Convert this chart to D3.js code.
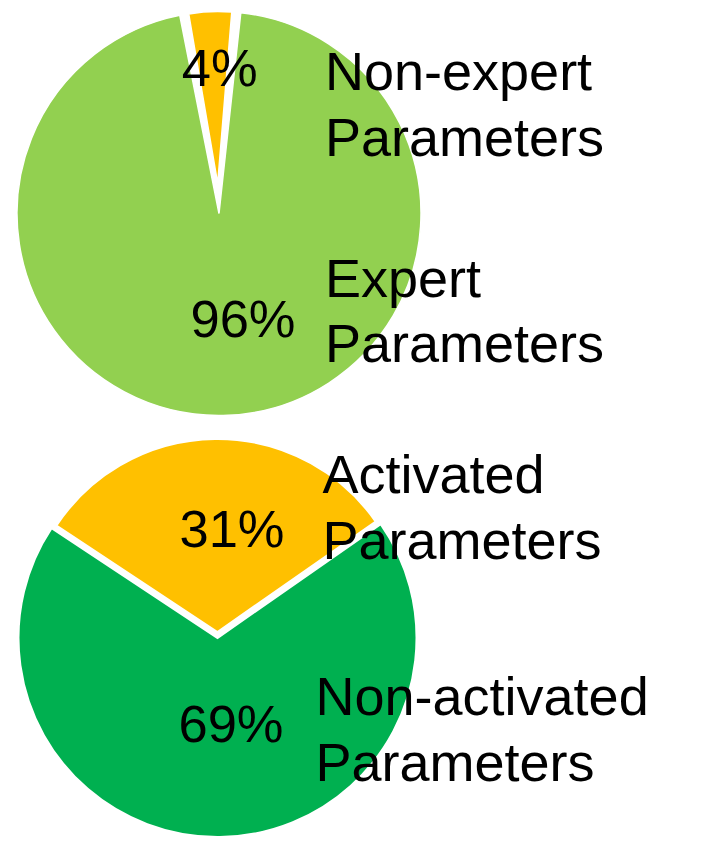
<!DOCTYPE html>
<html>
<head>
<meta charset="utf-8">
<script src="https://cdn.jsdelivr.net/npm/d3@7"></script>
<style>
  html, body { margin: 0; padding: 0; background: #ffffff; }
  svg { display: block; }
  text { font-family: "Liberation Sans", Arial, sans-serif; fill: #000; }
</style>
</head>
<body>
<script>
// ---- data ----
const topCategories = ["Non-expert Parameters", "Expert Parameters"];
const topValues = [4, 96];
const topLabels = ["4%", "96%"];

const bottomCategories = ["Activated Parameters", "Non-activated Parameters"];
const bottomValues = [31, 69];
const bottomLabels = ["31%", "69%"];

// ---- layout / style ----
const W = 701, H = 854;
const pies = [
  {
    cats: topCategories, vals: topValues, labels: topLabels,
    cx: 219, cy: 213.5, r: 202, start: -9.7,
    explode: [30, 0], gapDeg: [0, 1.5], stroke: 1.5,
    colors: ["#FFC000", "#92D050"],
    pctPos: [[0.7, -127.5], [24, 123]],
    catPos: [[106, -123.5], [106, 83.2]]
  },
  {
    cats: bottomCategories, vals: bottomValues, labels: bottomLabels,
    cx: 217.5, cy: 638, r: 199, start: -56.5,
    explode: [6, 0], gapDeg: [0, 0], stroke: 2,
    colors: ["#FFC000", "#00B050"],
    pctPos: [[14.5, -91.5], [13.5, 103.5]],
    catPos: [[105, -145], [98, 77]]
  }
];
const fontPct = 52.5, fontCat = 54, lineGap = 65.5;

const svg = d3.select("body").append("svg")
  .attr("width", W).attr("height", H)
  .attr("viewBox", `0 0 ${W} ${H}`);
svg.append("rect").attr("width", W).attr("height", H).attr("fill", "#fff");

const rad = Math.PI / 180;

pies.forEach(p => {
  const pie = d3.pie().sort(null)
    .startAngle(p.start * rad)
    .endAngle(p.start * rad + 2 * Math.PI);
  const arcs = pie(p.vals);
  const g = svg.append("g").attr("transform", `translate(${p.cx},${p.cy})`);

  g.selectAll("path.slice").data(arcs).join("path")
    .attr("class", "slice")
    .attr("fill", (d, i) => p.colors[i])
    .attr("stroke", "#fff")
    .attr("stroke-width", p.stroke)
    .attr("stroke-linejoin", "miter")
    .attr("transform", (d, i) => {
      const mid = (d.startAngle + d.endAngle) / 2;
      const e = p.explode[i];
      return `translate(${e * Math.sin(mid)},${-e * Math.cos(mid)})`;
    })
    .attr("d", (d, i) => {
      const gp = p.gapDeg[i] * rad;
      return d3.arc().innerRadius(0).outerRadius(p.r - p.explode[i])({
        startAngle: d.startAngle + gp,
        endAngle: d.endAngle - gp
      });
    });

  // percentage labels
  g.selectAll("text.pct").data(arcs).join("text")
    .attr("class", "pct")
    .attr("x", (d, i) => p.pctPos[i][0])
    .attr("y", (d, i) => p.pctPos[i][1])
    .attr("text-anchor", "middle")
    .style("font-size", fontPct + "px")
    .text((d, i) => p.labels[i]);

  // category labels (two lines)
  arcs.forEach((d, i) => {
    const words = p.cats[i].split(" ");
    const t = g.append("text")
      .attr("x", p.catPos[i][0])
      .attr("y", p.catPos[i][1])
      .style("font-size", fontCat + "px");
    words.forEach((w, k) => {
      t.append("tspan")
        .attr("x", p.catPos[i][0])
        .attr("dy", k === 0 ? 0 : lineGap)
        .text(w);
    });
  });
});
</script>
</body>
</html>
